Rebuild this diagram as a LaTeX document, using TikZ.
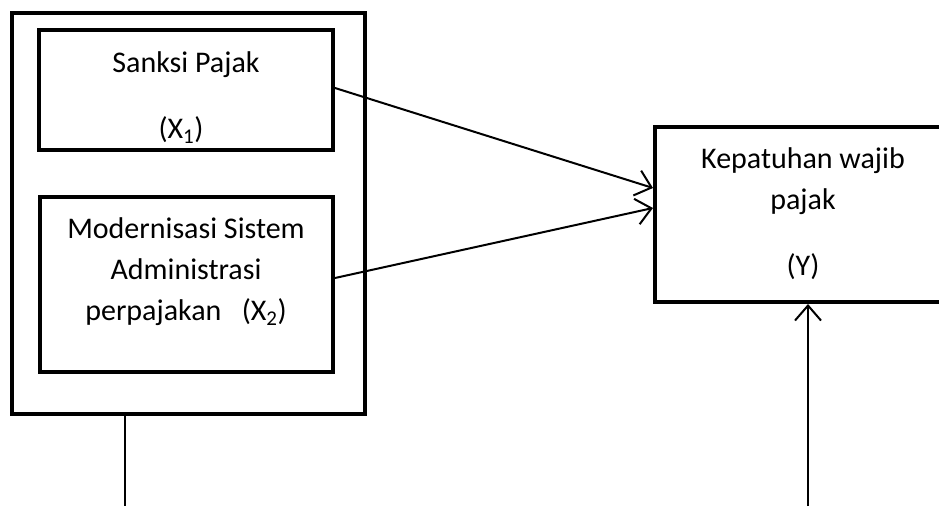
\documentclass[tikz,border=0pt]{standalone}
\usepackage{fontspec}
\setmainfont{Carlito}
\usetikzlibrary{arrows.meta}
\begin{document}
\begin{tikzpicture}[x=1pt, y=1pt,
  font=\fontsize{30}{41}\selectfont,
  kotak/.style={draw, line width=4pt, inner sep=0pt},
  teks/.style={align=center, inner sep=0pt},
  panah/.style={line width=2pt, -{Straight Barb[length=15pt, width=26pt, line width=2pt]}},
]
  \useasboundingbox (0,0) rectangle (939,506);
  \clip (0,0) rectangle (939,506);
  % kotak luar: dari 12 ke 365 · kotak Y: dari 655 sampai keluar gambar
  \node[kotak, minimum width=353pt, minimum height=401pt] (luar) at (188.5,292.5) {};
  \node[kotak, minimum width=294pt, minimum height=120pt] (sanksi) at (186,416) {};
  \node[kotak, minimum width=293pt, minimum height=175pt] (modern) at (186.5,221.5) {};
  \node[kotak, minimum width=306pt, minimum height=175pt] (patuh) at (808,291.5) {};

  \node[teks] (tsanksi) at (186,441) {Sanksi Pajak};
  \node[teks] (tx1) at (181,376) {(X\textsubscript{1})};
  \node[teks] (tmodern) at (186,234) {Modernisasi Sistem\\ Administrasi\\ perpajakan\ \ \ (X\textsubscript{2})};
  \node[teks] (tpatuh) at (803,325) {Kepatuhan wajib\\ pajak};
  \node[teks] (ty) at (803,239) {(Y)};

  \draw[panah] ([yshift=2pt]sanksi.east) -- ([yshift=26.5pt]patuh.west);
  \draw[panah] ([yshift=6.5pt]modern.east) -- ([yshift=6.5pt]patuh.west);

  \coordinate (bawah1) at (125,0);
  \coordinate (bawah2) at (808,0);
  \draw[line width=1.4pt] (luar.south -| bawah1) -- (bawah1);
  \draw[panah] (bawah2) -- (patuh.south);
\end{tikzpicture}
\end{document}
